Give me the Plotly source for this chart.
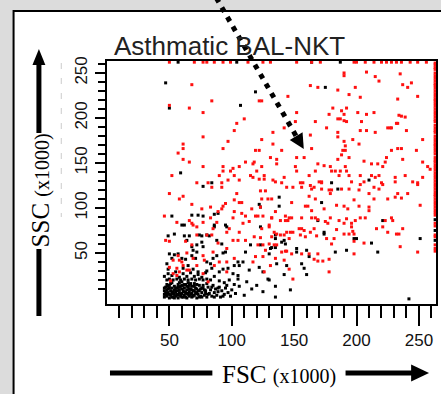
import plotly.graph_objects as go

# ---------------- data (FSC x1000, SSC x1000) ----------------
red_top_edge_fsc = [50, 70, 77, 80, 86, 93, 99, 113, 125, 131, 152, 164, 171, 198, 200,
                    207, 214, 220, 224, 228, 232, 236, 243, 249, 256]
red_top_edge_ssc = [262] * len(red_top_edge_fsc)

red_right_edge_ssc = [261, 259, 256, 254, 250, 247, 244, 241, 238, 236, 233, 230, 227, 224,
                      221, 219, 216, 213, 210, 207, 204, 201, 198, 196, 192, 189, 186, 184,
                      180, 177, 174, 171, 169, 166, 163, 160, 156, 153, 151, 148, 145, 142,
                      139, 136, 133, 130, 127, 124, 121, 118, 115, 113, 110, 107, 104, 101,
                      98, 95, 92, 83, 80, 70, 68, 59, 55, 52]
red_right_edge_fsc = [263] * len(red_right_edge_ssc)

red_events = [
    (68, 237), (84, 219), (50, 214), (66, 211), (77, 206), (122, 219), (124, 219), (110, 199),
    (104, 194), (102, 186), (77, 179), (133, 184), (61, 171), (61, 166), (57, 161), (97, 174),
    (93, 166), (124, 176), (119, 164), (122, 164), (61, 154), (66, 151), (77, 146),
    (93, 146), (93, 141), (99, 141), (101, 144), (106, 146), (111, 151), (117, 149), (118, 151),
    (131, 156), (124, 146), (120, 141), (52, 136), (72, 128), (81, 128), (90, 136), (92, 128),
    (97, 131), (102, 136), (106, 131), (115, 136), (117, 134), (122, 132), (126, 132), (126, 136),
    (133, 131),
    (190, 250), (190, 247), (208, 251), (215, 246), (218, 241), (235, 249), (237, 237), (244, 239),
    (241, 234), (163, 236), (169, 234), (185, 231), (199, 234), (194, 226), (203, 223), (145, 224),
    (233, 221), (249, 224), (181, 211), (192, 211), (188, 208), (190, 204), (152, 206), (178, 204),
    (201, 206), (208, 204), (214, 206), (185, 199), (187, 199), (190, 197), (192, 196), (204, 196),
    (167, 196), (151, 196), (234, 203), (236, 202), (239, 201), (232, 194), (233, 194), (225, 189),
    (227, 189), (228, 189), (240, 186), (142, 189), (176, 189), (203, 186), (208, 186), (215, 184),
    (163, 181), (185, 184), (185, 179), (197, 176), (190, 174), (191, 169), (189, 164), (191, 164),
    (188, 159), (202, 171), (133, 171), (140, 164), (164, 166), (253, 176), (248, 164), (228, 164),
    (233, 166), (236, 166), (224, 156), (237, 154), (136, 154), (152, 156), (158, 156),
    (185, 154), (194, 156), (206, 152), (136, 149), (223, 151), (217, 149), (212, 149), (253, 151),
    (169, 149), (174, 147), (179, 146), (151, 146), (221, 146), (191, 146), (257, 146), (259, 143),
    (152, 141), (162, 136), (167, 141), (180, 141), (183, 141), (187, 141), (192, 141), (186, 136),
    (194, 136), (203, 136), (212, 136), (215, 134), (218, 136), (231, 134), (239, 136), (253, 134),
    (142, 134), (135, 129), (140, 128), (155, 128), (157, 128), (170, 129), (172, 129), (196, 129),
    (206, 129), (220, 128), (231, 129), (245, 129),
    (84, 123), (92, 123), (50, 116), (58, 110), (61, 113), (104, 116), (123, 119), (127, 119),
    (124, 110), (129, 110), (106, 106), (108, 106), (102, 109), (68, 104), (93, 102), (95, 105),
    (83, 101), (76, 99), (89, 96), (92, 99), (123, 101), (102, 96), (108, 94), (111, 91),
    (116, 99), (46, 91), (66, 86), (68, 83), (69, 81), (56, 84), (77, 84), (83, 89), (101, 89),
    (88, 84), (85, 77), (119, 91), (121, 91), (125, 91), (132, 89), (130, 79), (109, 83), (114, 85),
    (106, 73), (124, 77), (72, 79), (72, 70), (96, 73), (98, 77), (80, 70), (84, 70), (101, 64),
    (105, 64), (111, 64), (118, 68), (123, 67), (47, 64), (50, 63), (63, 63), (68, 59), (89, 61),
    (121, 59), (125, 59), (127, 53), (96, 55), (85, 51), (57, 47), (58, 42), (60, 40), (53, 42),
    (64, 50), (69, 44), (77, 47), (78, 42), (90, 40), (96, 40), (102, 44), (119, 46), (125, 46),
    (117, 40), (86, 36), (126, 29), (56, 33), (58, 29), (53, 27), (56, 25), (51, 19), (64, 31),
    (66, 31), (77, 27), (96, 29), (81, 18), (50, 34), (61, 36), (72, 36),
    (144, 123), (149, 123), (156, 123), (163, 125), (164, 121), (166, 123), (172, 128), (172, 121),
    (178, 120), (180, 120), (179, 116), (188, 121), (194, 121), (203, 126), (202, 120), (214, 123),
    (218, 121), (221, 126), (249, 128), (249, 126), (231, 112), (233, 116), (236, 111), (241, 116),
    (225, 110), (210, 116), (214, 110), (198, 109), (162, 113), (167, 110), (148, 106), (132, 110),
    (159, 102), (161, 102), (184, 103), (190, 102), (193, 99), (202, 102), (210, 101), (210, 97),
    (251, 103), (164, 97), (174, 99), (132, 89), (139, 86), (143, 86), (145, 86), (146, 89),
    (135, 96), (143, 91), (148, 89), (156, 89), (164, 89), (167, 89), (169, 87), (179, 89),
    (175, 85), (177, 83), (186, 86), (192, 88), (196, 83), (199, 86), (203, 89), (207, 89),
    (190, 83), (196, 79), (197, 74), (198, 71), (216, 77), (221, 79), (225, 73), (232, 71),
    (234, 71), (237, 77), (228, 89), (229, 86), (223, 86), (130, 81), (134, 73), (132, 68),
    (136, 71), (139, 70), (142, 70), (144, 73), (146, 66), (147, 73), (149, 73), (154, 77),
    (156, 77), (158, 75), (155, 70), (159, 68), (163, 73), (166, 77), (168, 69), (176, 66),
    (180, 60), (182, 66), (184, 76), (190, 71), (194, 71), (198, 63), (206, 61), (235, 57),
    (249, 51), (130, 60), (134, 59), (136, 59), (140, 51), (143, 52), (144, 52), (148, 49),
    (156, 49), (162, 49), (169, 49), (166, 43), (169, 41), (173, 41), (178, 43), (178, 29),
    (198, 49), (135, 44), (142, 42), (146, 32), (149, 21), (131, 36),
]

black_events = [
    (57, 262), (104, 262), (164, 262), (187, 262), (263, 87), (263, 75), (263, 64),
    (47, 239), (50, 211), (119, 229), (107, 214), (59, 139), (77, 124), (175, 234), (210, 131),
    (180, 128), (84, 128), (122, 104), (123, 101), (52, 91), (60, 81), (62, 81), (68, 92),
    (73, 92), (77, 91), (86, 93), (89, 94), (86, 81), (86, 79), (95, 81), (96, 79), (123, 79),
    (49, 69), (54, 71), (62, 69), (64, 64), (66, 69), (74, 70), (76, 69), (80, 70), (82, 69),
    (72, 59), (76, 62), (77, 57), (68, 57), (69, 53), (72, 51), (88, 64), (92, 60), (93, 50),
    (95, 51), (111, 51), (115, 59), (123, 59), (130, 49), (131, 55), (50, 49), (52, 44), (54, 48),
    (57, 49), (60, 44), (63, 43), (68, 47), (71, 44), (80, 40), (83, 38), (85, 44), (88, 47),
    (102, 36), (105, 40), (109, 40), (106, 36), (114, 31), (122, 34), (125, 29), (129, 21),
    (48, 38), (49, 32), (61, 33), (65, 36), (69, 32), (73, 29), (80, 30), (84, 33), (90, 29),
    (93, 32), (97, 33), (101, 27), (105, 25),
    (185, 121), (138, 112), (138, 102), (172, 106), (221, 86), (169, 86), (174, 73), (174, 71),
    (198, 66), (200, 66), (135, 70), (135, 66), (142, 64), (143, 60), (140, 62), (132, 56),
    (135, 56), (152, 55), (152, 51), (160, 53), (162, 46), (183, 51), (192, 53), (212, 61),
    (217, 51), (251, 66), (136, 38), (144, 36), (156, 38), (158, 33), (160, 26), (142, 26),
    (135, 13), (147, 9), (135, 1), (242, -1),
]

black_cluster = [
    (46, 1), (47, 4), (46, 8), (47, 12), (48, 2), (49, 6), (49, 10), (50, 14), (50, 0), (51, 3),
    (51, 8), (52, 11), (52, 17), (53, 1), (53, 5), (54, 9), (54, 13), (55, 2), (55, 7), (56, 4),
    (56, 11), (57, 15), (57, 0), (58, 6), (58, 9), (59, 2), (59, 13), (60, 5), (60, 18), (61, 1),
    (61, 8), (62, 11), (62, 3), (63, 6), (63, 15), (64, 0), (64, 9), (65, 4), (65, 12), (66, 7),
    (66, 2), (67, 10), (67, 16), (68, 1), (68, 5), (69, 8), (70, 3), (70, 13), (71, 6), (72, 0),
    (72, 10), (73, 4), (74, 8), (74, 14), (75, 2), (76, 6), (77, 11), (78, 3), (79, 8), (80, 1),
    (81, 12), (82, 5), (83, 9), (84, 2), (85, 14), (86, 6), (87, 10), (88, 3), (89, 7), (90, 12),
    (91, 1), (92, 8), (94, 4), (95, 11), (97, 6), (99, 2), (100, 9), (103, 5), (106, 13), (110, 3),
    (48, 20), (50, 21), (53, 20), (56, 21), (59, 20), (62, 21), (65, 20), (68, 21), (71, 20),
    (74, 21), (77, 20), (80, 21), (83, 20),
    (46, 24), (49, 27), (52, 25), (55, 29), (58, 23), (61, 27), (64, 24), (67, 28), (70, 24),
    (73, 26), (76, 23), (79, 28), (86, 24), (90, 19), (94, 17), (98, 20), (102, 15), (105, 21),
    (112, 18), (116, 10), (120, 14), (125, 7), (130, 20),
    (47, 6), (48, 9), (49, 13), (51, 16), (53, 7), (54, 0), (56, 8), (57, 12), (58, 17), (59, 4),
    (60, 10), (61, 14), (62, 7), (63, 1), (64, 13), (65, 17), (66, 10), (67, 4), (68, 13), (69, 2),
    (71, 11), (72, 15), (73, 8), (75, 10), (76, 1), (77, 14), (79, 5), (80, 16),
    (46, 4), (46, 11), (48, 5), (48, 15), (50, 4), (50, 11), (52, 6), (52, 1), (54, 4), (55, 11),
    (57, 3), (58, 12), (60, 1), (60, 14), (62, 15), (64, 5), (66, 14), (68, 9), (70, 8), (70, 16),
    (72, 5), (74, 1), (76, 11), (78, 9), (81, 4), (84, 12), (86, 1), (89, 11), (93, 2), (96, 14),
]

x_major_ticks = [50, 100, 150, 200, 250]
y_major_ticks = [50, 100, 150, 200, 250]
minor_ticks = [v for v in range(10, 261, 10) if v % 50]

title_text = "Asthmatic BAL-NKT"
x_title = "FSC"
y_title = "SSC"
unit_text = "(x1000)"

# ---------------- figure ----------------
W, H = 441, 394
L, R, T, B = 107, 438, 61, 304
PW, PH = R - L, B - T


def px(xp):
    return (xp - L) / PW


def py(yp):
    return (B - yp) / PH


red_x = red_top_edge_fsc + red_right_edge_fsc + [p[0] for p in red_events]
red_y = red_top_edge_ssc + red_right_edge_ssc + [p[1] for p in red_events]
blk = black_events + black_cluster
blk_x = [p[0] for p in blk]
blk_y = [p[1] for p in blk]

fig = go.Figure()
fig.add_trace(go.Scatter(x=blk_x, y=blk_y, mode="markers", cliponaxis=True,
                         marker=dict(symbol="square", size=3, color="#000000", line=dict(width=0)),
                         showlegend=False, hoverinfo="skip"))
fig.add_trace(go.Scatter(x=red_x, y=red_y, mode="markers", cliponaxis=True,
                         marker=dict(symbol="square", size=3, color="#ff1010", line=dict(width=0)),
                         showlegend=False, hoverinfo="skip"))

tickfont = dict(family="Liberation Sans, Arial, sans-serif", size=17, color="#111111")

fig.update_xaxes(range=[0, 263.7], tickmode="array", tickvals=x_major_ticks,
                 ticks="outside", ticklen=20, tickwidth=2, tickcolor="#000",
                 minor=dict(tickmode="array", tickvals=minor_ticks, ticks="outside",
                            ticklen=12, tickwidth=2, tickcolor="#000"),
                 showline=True, linewidth=2, linecolor="#000", mirror=True,
                 showgrid=False, zeroline=False, tickfont=tickfont)
fig.update_yaxes(range=[-6.7, 263.3], tickmode="array", tickvals=y_major_ticks,
                 ticks="outside", ticklen=10, tickwidth=2, tickcolor="#000", tickangle=-90,
                 ticklabelstandoff=1,
                 minor=dict(tickmode="array", tickvals=minor_ticks, ticks="outside",
                            ticklen=7, tickwidth=2, tickcolor="#000"),
                 showline=True, linewidth=2, linecolor="#000", mirror=True,
                 showgrid=False, zeroline=False, tickfont=tickfont)

shapes = []
# white panel with black border
shapes.append(dict(type="rect", xref="paper", yref="paper", layer="below",
                   x0=px(13), x1=px(460), y0=py(420), y1=py(11),
                   fillcolor="#ffffff", line=dict(color="#000", width=2)))
# faint dashed guide
shapes.append(dict(type="line", xref="paper", yref="paper", x0=px(61), x1=px(61),
                   y0=py(63), y1=py(217), line=dict(color="#cccccc", width=1, dash="6px,9px")))
# FSC arrow
shapes.append(dict(type="line", xref="paper", yref="paper", x0=px(110), x1=px(213),
                   y0=py(373), y1=py(373), line=dict(color="#000", width=5)))
shapes.append(dict(type="line", xref="paper", yref="paper", x0=px(347), x1=px(416),
                   y0=py(373), y1=py(373), line=dict(color="#000", width=5)))
shapes.append(dict(type="path", xref="paper", yref="paper",
                   path=f"M {px(413)} {py(364.5)} L {px(431)} {py(373)} L {px(413)} {py(381.5)} Z",
                   fillcolor="#000", line=dict(color="#000", width=0)))
# SSC arrow
shapes.append(dict(type="line", xref="paper", yref="paper", x0=px(38.5), x1=px(38.5),
                   y0=py(249), y1=py(316), line=dict(color="#000", width=5)))
shapes.append(dict(type="line", xref="paper", yref="paper", x0=px(38.5), x1=px(38.5),
                   y0=py(62), y1=py(133), line=dict(color="#000", width=5)))
shapes.append(dict(type="path", xref="paper", yref="paper",
                   path=f"M {px(32)} {py(65)} L {px(38.5)} {py(49)} L {px(45)} {py(65)} Z",
                   fillcolor="#000", line=dict(color="#000", width=0)))
# dotted pointer arrow
tip = (305.0, 149.0)
ux, uy = 0.512, 0.859
bx, by = tip[0] - 15 * ux, tip[1] - 15 * uy
nx, ny = 0.859, -0.512
shapes.append(dict(type="line", xref="paper", yref="paper", x0=px(217), x1=px(bx + 2 * ux),
                   y0=py(-2), y1=py(by + 2 * uy), line=dict(color="#000", width=5, dash="5px,6px")))
shapes.append(dict(type="path", xref="paper", yref="paper",
                   path=(f"M {px(bx + 7.5 * nx)} {py(by + 7.5 * ny)} L {px(tip[0])} {py(tip[1])} "
                         f"L {px(bx - 7.5 * nx)} {py(by - 7.5 * ny)} Z"),
                   fillcolor="#000", line=dict(color="#000", width=0)))

annotations = [
    dict(text=title_text, xref="paper", yref="paper", x=px(230), y=py(46), showarrow=False,
         xanchor="center", yanchor="middle",
         font=dict(family="Liberation Sans, Arial, sans-serif", size=26, color="#222222")),
    dict(text=f"{x_title} <span style='font-size:20px'>{unit_text}</span>", xref="paper",
         yref="paper", x=px(280), y=py(374), showarrow=False, xanchor="center", yanchor="middle",
         font=dict(family="Liberation Serif, Times New Roman, serif", size=25, color="#000")),
    dict(text=f"{y_title} <span style='font-size:20px'>{unit_text}</span>", xref="paper",
         yref="paper", x=px(40), y=py(190), showarrow=False, xanchor="center", yanchor="middle",
         textangle=-90,
         font=dict(family="Liberation Serif, Times New Roman, serif", size=25, color="#000")),
]

fig.update_layout(width=W, height=H, margin=dict(l=L, r=W - R, t=T, b=H - B, pad=0),
                  paper_bgcolor="#dcdcdc", plot_bgcolor="#ffffff", shapes=shapes,
                  annotations=annotations, showlegend=False)

fig.write_html("out.html", config={"displayModeBar": False},
               post_script="document.body.style.margin='0';document.body.style.overflow='hidden';")
